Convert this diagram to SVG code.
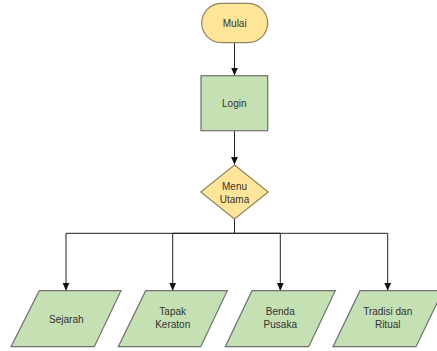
<svg xmlns="http://www.w3.org/2000/svg" width="437" height="351" viewBox="0 0 437 351">
<style>
.term{fill:#FFE599;stroke:#8F8360;stroke-width:1.2}
.proc{fill:#C5E0B3;stroke:#707070;stroke-width:1.2}
.dec{fill:#FFE599;stroke:#8F8360;stroke-width:1.2}
.io{fill:#C5E0B3;stroke:#707070;stroke-width:1.2}
.lbl{font-family:"Liberation Sans",Arial,sans-serif;font-size:10px;fill:#333;text-anchor:middle;dominant-baseline:central}
.edge{fill:none;stroke:#222;stroke-width:1}
</style>
<defs>
<marker id="arr" viewBox="0 0 8 8" refX="8" refY="4" markerWidth="8" markerHeight="8" markerUnits="userSpaceOnUse" orient="auto">
<path d="M0,0.5 L8,4 L0,7.5 z" fill="#111"/>
</marker>
</defs>
<rect width="437" height="351" fill="#fff"/>
<g id="connectors">
<line class="edge" x1="234.5" y1="42.7" x2="234.5" y2="75.5" marker-end="url(#arr)"/>
<line class="edge" x1="234.5" y1="130.7" x2="234.5" y2="164.8" marker-end="url(#arr)"/>
<polyline class="edge" points="234.5,219 234.5,233.3 66,233.3 66,290.7" marker-end="url(#arr)"/>
<polyline class="edge" points="234.5,233.3 172.7,233.3 172.7,290.7" marker-end="url(#arr)"/>
<polyline class="edge" points="234.5,233.3 280.3,233.3 280.3,290.7" marker-end="url(#arr)"/>
<polyline class="edge" points="234.5,233.3 387.7,233.3 387.7,290.7" marker-end="url(#arr)"/>
</g>
<g id="mulai">
<rect class="term" x="201.7" y="3.3" width="66" height="39.4" rx="19.7"/>
<text class="lbl" x="234.7" y="23">Mulai</text>
</g>
<g id="login">
<rect class="proc" x="201" y="75.7" width="66.7" height="55"/>
<text class="lbl" x="234.3" y="103.2">Login</text>
</g>
<g id="menu">
<polygon class="dec" points="234.5,165 268.3,192 234.5,219 200.7,192"/>
<text class="lbl" x="234.5" y="186">Menu</text>
<text class="lbl" x="234.5" y="199">Utama</text>
</g>
<g id="sejarah">
<polygon class="io" points="39.3,290.7 121,290.7 94.3,346.7 11,346.7"/>
<text class="lbl" x="66.3" y="319">Sejarah</text>
</g>
<g id="tapak">
<polygon class="io" points="145.7,290.7 227.3,290.7 200.7,346.7 118.3,346.7"/>
<text class="lbl" x="172.7" y="311">Tapak</text>
<text class="lbl" x="172.7" y="324.5">Keraton</text>
</g>
<g id="benda">
<polygon class="io" points="252,290.7 335.3,290.7 308.7,346.7 225.3,346.7"/>
<text class="lbl" x="280.3" y="311">Benda</text>
<text class="lbl" x="280.3" y="324.5">Pusaka</text>
</g>
<g id="tradisi">
<polygon class="io" points="360,290.7 443,290.7 416,346.7 333,346.7"/>
<text class="lbl" x="387.7" y="311">Tradisi dan</text>
<text class="lbl" x="387.7" y="324.5">Ritual</text>
</g>
</svg>
